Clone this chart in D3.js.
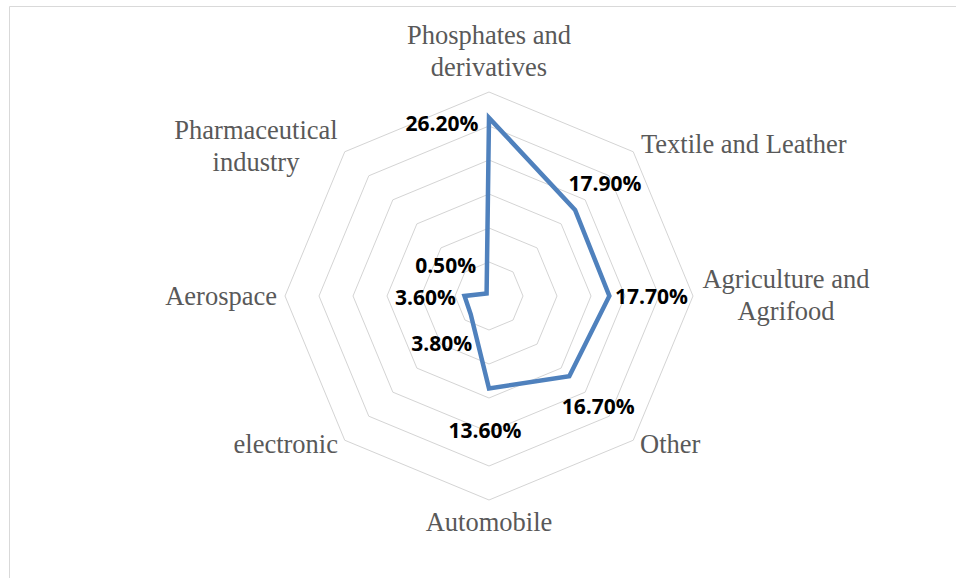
<!DOCTYPE html>
<html><head><meta charset="utf-8">
<script src="https://cdn.jsdelivr.net/npm/d3@7"></script>
<style>html,body{margin:0;padding:0;background:#fff;}svg{display:block;}</style>
</head><body>
<svg id="chart" width="956" height="578"></svg>
<script>
const categories = [
  ["Phosphates and", "derivatives"],
  ["Textile and Leather"],
  ["Agriculture and", "Agrifood"],
  ["Other"],
  ["Automobile"],
  ["electronic"],
  ["Aerospace"],
  ["Pharmaceutical", "industry"]
];
const values = [26.2, 17.9, 17.7, 16.7, 13.6, 3.8, 3.6, 0.5];
const valueLabels = ["26.20%", "17.90%", "17.70%", "16.70%", "13.60%", "3.80%", "3.60%", "0.50%"];
const ringTicks = [5, 10, 15, 20, 25, 30];

// layout config
const cx = 489, cy = 296, R = 204;
const labelOffsets = [[-47, 5], [30, -27], [42, 0], [29, 30], [-4, 42], [-29, 29], [-39, 1], [-41, -29]];
const catPos = [
  {x: 489, y: 44, anchor: "middle"},
  {x: 641, y: 153, anchor: "start"},
  {x: 786, y: 288, anchor: "middle"},
  {x: 640, y: 453, anchor: "start"},
  {x: 489, y: 531, anchor: "middle"},
  {x: 338, y: 453, anchor: "end"},
  {x: 277, y: 305, anchor: "end"},
  {x: 256, y: 139, anchor: "middle"}
];

const svg = d3.select("#chart");
// frame
svg.append("line").attr("x1", 9.5).attr("y1", 6.5).attr("x2", 956).attr("y2", 6.5).attr("stroke", "#d9d9d9");
svg.append("line").attr("x1", 9.5).attr("y1", 6.5).attr("x2", 9.5).attr("y2", 578).attr("stroke", "#d9d9d9");

const n = categories.length;
const r = d3.scaleLinear().domain([0, 30]).range([0, R]);
const angle = d3.scaleLinear().domain([0, n]).range([0, 2 * Math.PI]);
const pt = (i, v) => [cx + Math.sin(angle(i)) * r(v), cy - Math.cos(angle(i)) * r(v)];

const g = svg.append("g");
// rings
ringTicks.forEach(t => {
  const pts = d3.range(n).map(i => pt(i, t));
  g.append("polygon").attr("points", pts.map(p => p.join(",")).join(" "))
    .attr("fill", "none").attr("stroke", "#d4d4d4").attr("stroke-width", 1);
});

// data line
const line = d3.line().curve(d3.curveLinearClosed);
g.append("path").attr("d", line(values.map((v, i) => pt(i, v))))
  .attr("fill", "none").attr("stroke", "#4f81bd").attr("stroke-width", 4.5).attr("stroke-linejoin", "miter");

// value labels
values.forEach((v, i) => {
  const [x, y] = pt(i, v);
  g.append("text").attr("x", x + labelOffsets[i][0]).attr("y", y + labelOffsets[i][1])
    .attr("text-anchor", "middle").attr("dominant-baseline", "central")
    .attr("font-family", "'Open Sans', sans-serif").attr("font-weight", "bold")
    .attr("font-size", 21).attr("fill", "#000").text(valueLabels[i]);
});

// category labels
categories.forEach((lines, i) => {
  const p = catPos[i];
  const t = g.append("text").attr("x", p.x).attr("y", p.y).attr("text-anchor", p.anchor)
    .attr("font-family", "'Liberation Serif', 'Times New Roman', serif").attr("font-size", 26.5).attr("fill", "#595959");
  lines.forEach((s, k) => t.append("tspan").attr("x", p.x).attr("dy", k === 0 ? 0 : 32).text(s));
});
</script>
</body></html>
